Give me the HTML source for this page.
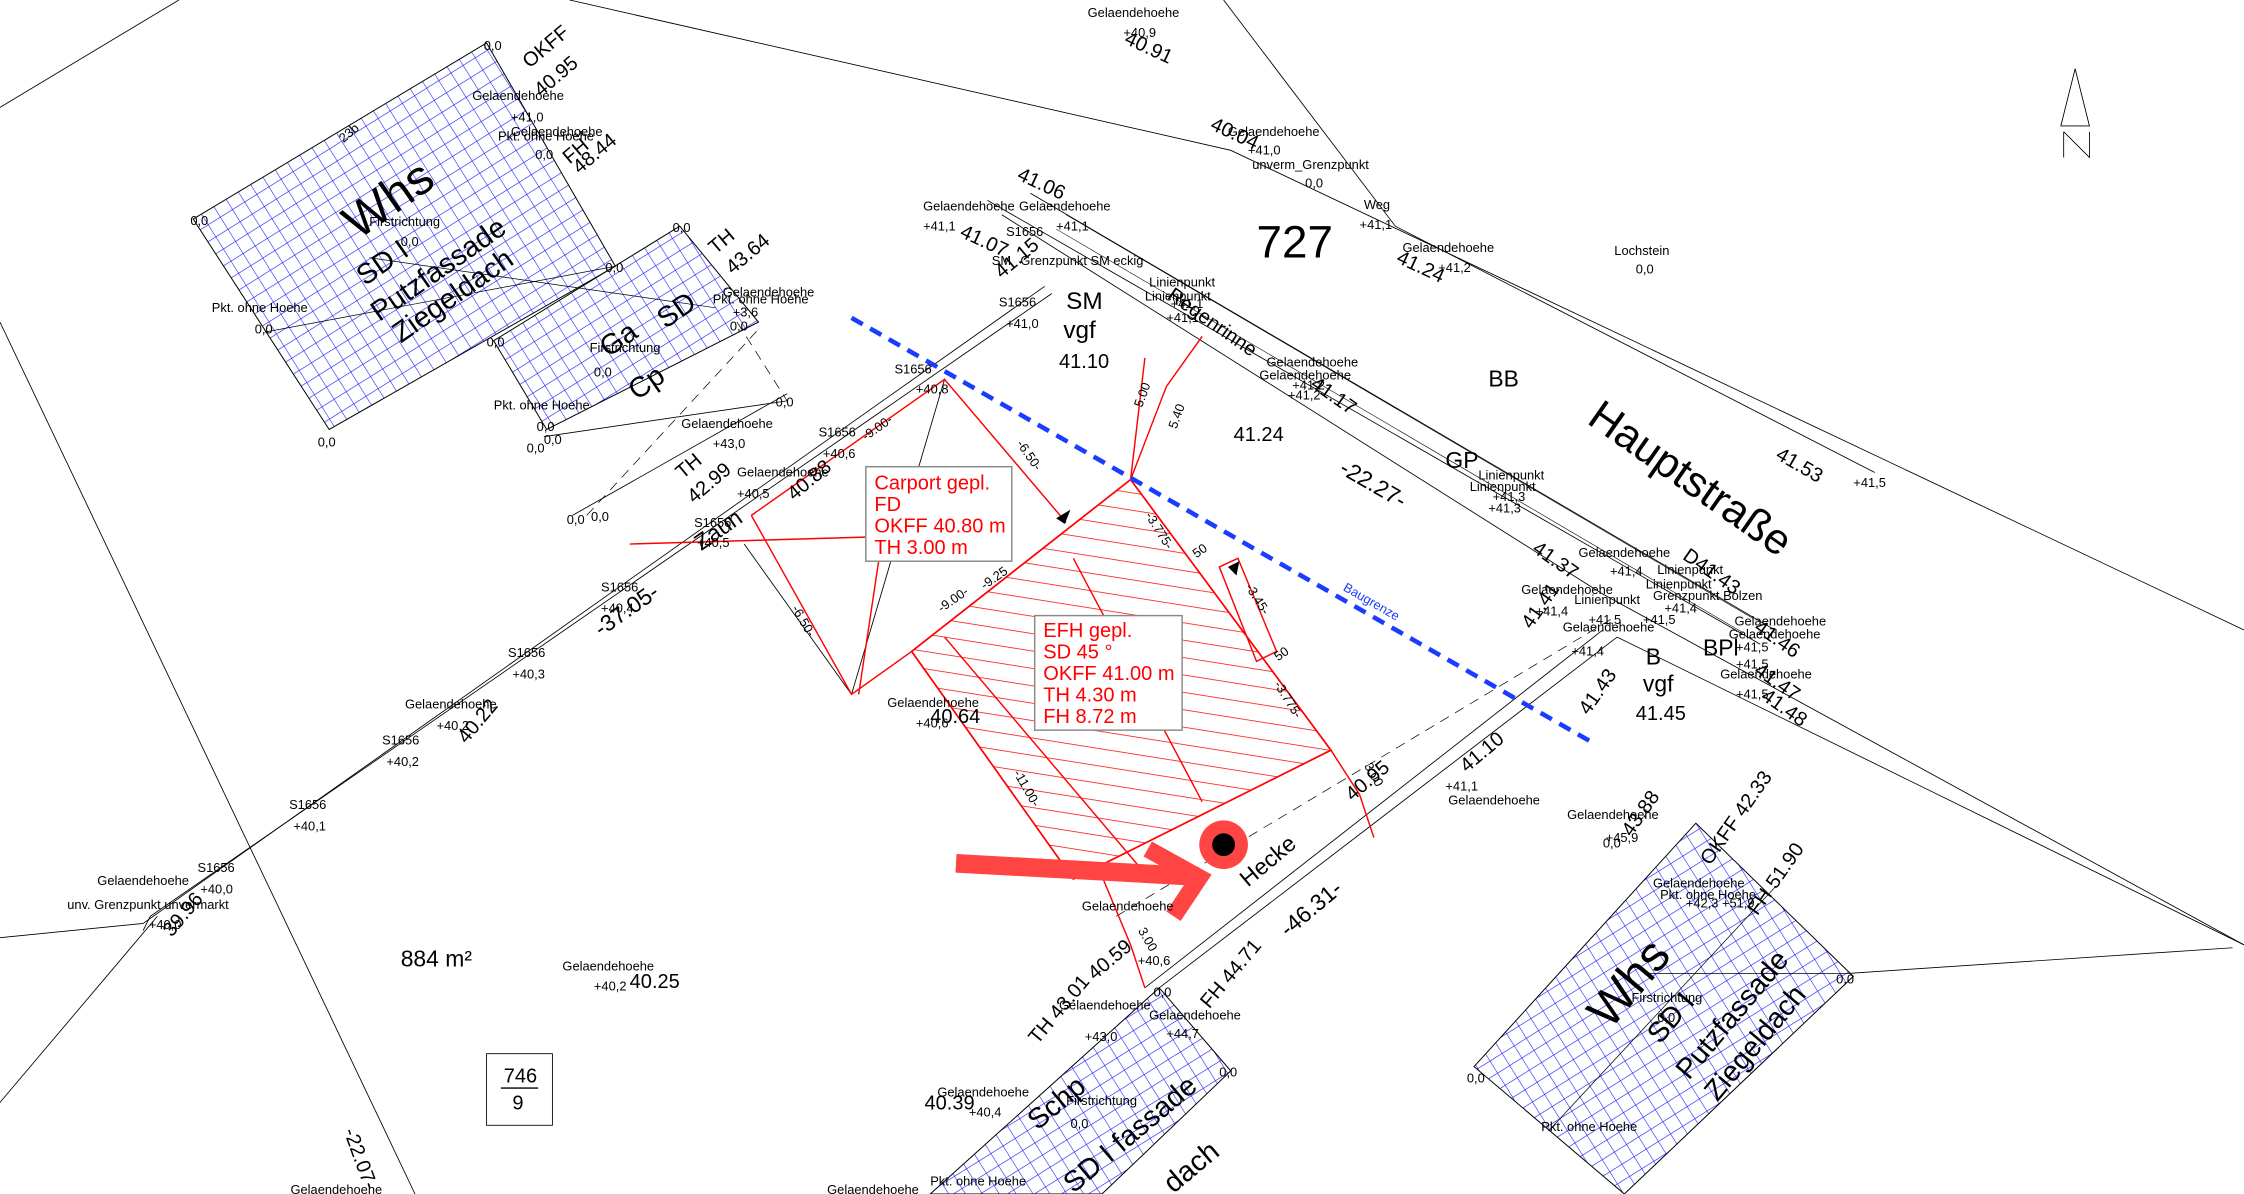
<!DOCTYPE html>
<html><head><meta charset="utf-8"><style>
html,body{margin:0;padding:0;background:#fff;overflow:hidden}
svg{display:block}
text{font-family:"Liberation Sans",sans-serif;fill:#000}
.s{font-size:9px}
.m{font-size:14px}
.b{font-size:20px}
.r{fill:#f00}
</style></head><body>
<svg width="2244" height="1194" viewBox="0 0 1568 834" preserveAspectRatio="none" xmlns="http://www.w3.org/2000/svg">
<defs>
<pattern id="bh" width="10" height="10" patternUnits="userSpaceOnUse" patternTransform="rotate(-32)">
<path d="M0 0H10M0 0V10" stroke="#1a1aff" stroke-width="0.8" fill="none"/>
</pattern>
<pattern id="rh" width="14" height="12" patternUnits="userSpaceOnUse" patternTransform="rotate(9)">
<path d="M0 0H14" stroke="#f00" stroke-width="1" fill="none"/>
</pattern>
</defs>
<rect width="1568" height="834" fill="#fff"/>
<g stroke="#000" stroke-width="0.6" fill="none">
<path d="M0 75L125 0"/>
<path d="M398 0L860 105L1568 440"/>
<path d="M855 0L975 158L1310 330"/>
<path d="M0 655L100 645L730 200"/>
<path d="M100 650L105 640L735 205"/>
<path d="M0 225L290 834"/>
<path d="M0 770L110 640"/>
<path d="M690 140L1230 450"/>
<path d="M720 135L1240 440"/>
<path d="M700 150L1120 415L1568 660"/>
<path d="M800 690L1120 440"/>
<path d="M810 690L1130 445"/>
<path d="M1130 445L1568 660"/>
<path d="M400 360L550 275"/>
<path d="M380 305L550 280"/>
<path d="M1290 680L1560 662"/>
<path d="M520 380L595 485L660 265L745 365"/>
</g>
<g stroke="#000" stroke-width="0.5" stroke-dasharray="7 5" fill="none">
<path d="M780 640L1130 430"/>
<path d="M515 225L550 280"/>
<path d="M410 360L530 230"/>
</g>
<g stroke="#000" stroke-width="0.4">
<path d="M745 150L1225 432M738 160L1218 442"/>
</g>
<g stroke="#000" stroke-width="0.7" fill="url(#bh)">
<polygon points="135,153 340,30 430,186 230,300"/>
<polygon points="345,238 475,158 530,225 382,300"/>
<polygon points="1030,745 1185,575 1295,682 1135,834"/>
<polygon points="650,834 810,690 860,748 770,834"/>
</g>
<g stroke="#000" stroke-width="0.5" fill="none">
<path d="M185 232L430 186M258 180L500 215"/>
<path d="M1082 790L1240 620M1150 680L1290 680"/>
</g>
<g stroke="#f00" stroke-width="1" fill="none">
<path d="M525 360L660 265L745 365"/>
<path d="M525 360L595 485L637 455"/>
<path d="M440 380L610 375"/>
<path d="M615 385L600 485"/>
<path d="M790 335L815 270L840 235"/>
<path d="M790 335L800 250"/>
<path d="M930 524L950 555L960 585"/>
<path d="M770 612L790 660L800 690"/>
</g>
<polygon points="790,335 930,524 750,614 637,455" fill="url(#rh)" stroke="#f00" stroke-width="1.2"/>
<path d="M660 445L800 610M750 390L840 560" stroke="#f00" stroke-width="1" fill="none"/>
<polygon points="852,396 865,390 892,455 878,462" fill="none" stroke="#f00"/>
<path d="M738 362l10 -6 -4 10z M858 396l8 -4 -2 10z" fill="#000"/>
<path d="M595 222L1115 520" stroke="#1a3cff" stroke-width="3.2" stroke-dasharray="9 6" fill="none"/>
<text x="938" y="412" font-size="9" style="fill:#1a3cff" transform="rotate(30 938 412)">Baugrenze</text>
<rect x="605" y="326" width="102" height="66" fill="#fff" stroke="#888"/>
<text x="611" y="342" class="m r">Carport gepl.</text>
<text x="611" y="357" class="m r">FD</text>
<text x="611" y="372" class="m r">OKFF 40.80 m</text>
<text x="611" y="387" class="m r">TH 3.00 m</text>
<rect x="723" y="430" width="103" height="80" fill="#fff" stroke="#888"/>
<text x="729" y="445" class="m r">EFH gepl.</text>
<text x="729" y="460" class="m r">SD 45 °</text>
<text x="729" y="475" class="m r">OKFF  41.00 m</text>
<text x="729" y="490" class="m r">TH 4.30 m</text>
<text x="729" y="505" class="m r">FH 8.72 m</text>
<g font-size="9" style="fill:#f00">
<text x="605" y="308" transform="rotate(-35 605 308)">-9.00-</text>
<text x="710" y="310" transform="rotate(55 710 310)">-6.50-</text>
<text x="553" y="425" transform="rotate(60 553 425)">-6.50-</text>
<text x="798" y="285" transform="rotate(-70 798 285)">5.00</text>
<text x="822" y="300" transform="rotate(-70 822 300)">5.40</text>
<text x="658" y="428" transform="rotate(-35 658 428)">-9.00-</text>
<text x="688" y="412" transform="rotate(-35 688 412)">-9.25</text>
<text x="800" y="360" transform="rotate(58 800 360)">-3.775-</text>
<text x="836" y="390" transform="rotate(-35 836 390)">50</text>
<text x="870" y="410" transform="rotate(58 870 410)">-3.45-</text>
<text x="893" y="462" transform="rotate(-35 893 462)">50</text>
<text x="890" y="478" transform="rotate(58 890 478)">-3.775-</text>
<text x="708" y="540" transform="rotate(60 708 540)">-11.00-</text>
<text x="953" y="535" transform="rotate(60 953 535)">3.00</text>
<text x="795" y="650" transform="rotate(60 795 650)">3.00</text>
</g>
<circle cx="855" cy="590" r="17" fill="#f44"/>
<circle cx="855" cy="590" r="8" fill="#000"/>
<path d="M668 603L832 612" stroke="#f44" stroke-width="13" fill="none"/>
<path d="M802 593L838 613L820 640" stroke="#f44" stroke-width="12" fill="none"/>
<text x="250" y="168" font-size="34" transform="rotate(-35 250 168)">Whs</text>
<text x="255" y="200" class="b" transform="rotate(-35 255 200)">SD  I</text>
<text x="265" y="225" class="b" transform="rotate(-35 265 225)">Putzfassade</text>
<text x="280" y="240" class="b" transform="rotate(-35 280 240)">Ziegeldach</text>
<text x="425" y="250" class="b" transform="rotate(-35 425 250)">Ga</text>
<text x="465" y="230" class="b" transform="rotate(-35 465 230)">SD</text>
<text x="445" y="280" class="b" transform="rotate(-35 445 280)">Cp</text>
<text x="1125" y="720" font-size="34" transform="rotate(-50 1125 720)">Whs</text>
<text x="1160" y="730" class="b" transform="rotate(-50 1160 730)">SD  I</text>
<text x="1180" y="755" class="b" transform="rotate(-50 1180 755)">Putzfassade</text>
<text x="1200" y="770" class="b" transform="rotate(-50 1200 770)">Ziegeldach</text>
<text x="725" y="790" class="b" transform="rotate(-40 725 790)">Schp</text>
<text x="750" y="834" class="b" transform="rotate(-40 750 834)">SD  I  fassade</text>
<text x="820" y="834" class="b" transform="rotate(-40 820 834)">dach</text>
<text x="878" y="180" font-size="32">727</text>
<text x="1040" y="270" font-size="16">BB</text>
<text x="1108" y="295" font-size="30" transform="rotate(35 1108 295)">Hauptstraße</text>
<text x="745" y="216" font-size="17">SM</text>
<text x="743" y="236" font-size="17">vgf</text>
<text x="740" y="257" class="m">41.10</text>
<text x="862" y="308" class="m">41.24</text>
<text x="935" y="330" font-size="16" transform="rotate(30 935 330)">-22.27-</text>
<text x="1010" y="327" font-size="16">GP</text>
<text x="1150" y="464" font-size="16">B</text>
<text x="1148" y="483" font-size="16">vgf</text>
<text x="1143" y="503" class="m">41.45</text>
<text x="1190" y="458" font-size="16">BPl</text>
<text x="815" y="208" class="m" transform="rotate(35 815 208)">Regenrinne</text>
<text x="490" y="385" font-size="16" transform="rotate(-35 490 385)">Zaun</text>
<text x="420" y="445" font-size="16" transform="rotate(-35 420 445)">-37.05-</text>
<text x="326" y="520" class="m" transform="rotate(-50 326 520)">40.22</text>
<text x="650" y="505" class="m">40.64</text>
<text x="872" y="620" font-size="16" transform="rotate(-40 872 620)">Hecke</text>
<text x="900" y="655" font-size="16" transform="rotate(-40 900 655)">-46.31-</text>
<text x="945" y="560" class="m" transform="rotate(-40 945 560)">40.95</text>
<text x="1025" y="540" class="m" transform="rotate(-40 1025 540)">41.10</text>
<text x="765" y="685" class="m" transform="rotate(-40 765 685)">40.59</text>
<text x="280" y="675" font-size="16">884 m²</text>
<text x="440" y="690" class="m">40.25</text>
<text x="646" y="775" class="m">40.39</text>
<text x="240" y="790" class="m" transform="rotate(70 240 790)">-22.07-</text>
<text x="120" y="655" class="m" transform="rotate(-50 120 655)">39.96</text>
<rect x="340" y="736" width="46" height="50" fill="none" stroke="#000" stroke-width="0.6"/>
<text x="352" y="756" class="m">746</text>
<path d="M350 760H376" stroke="#000"/>
<text x="358" y="775" class="m">9</text>
<text x="1240" y="320" class="m" transform="rotate(30 1240 320)">41.53</text>
<text x="370" y="48" class="m" transform="rotate(-40 370 48)">OKFF</text>
<text x="378" y="68" class="m" transform="rotate(-40 378 68)">40.95</text>
<text x="398" y="115" class="m" transform="rotate(-40 398 115)">FH</text>
<text x="405" y="122" class="m" transform="rotate(-40 405 122)">48.44</text>
<text x="500" y="178" class="m" transform="rotate(-40 500 178)">TH</text>
<text x="512" y="192" class="m" transform="rotate(-40 512 192)">43.64</text>
<text x="477" y="335" class="m" transform="rotate(-40 477 335)">TH</text>
<text x="485" y="352" class="m" transform="rotate(-40 485 352)">42.99</text>
<text x="555" y="350" class="m" transform="rotate(-40 555 350)">40.88</text>
<text x="710" y="125" class="m" transform="rotate(25 710 125)">41.06</text>
<text x="670" y="165" class="m" transform="rotate(25 670 165)">41.07</text>
<text x="700" y="195" class="m" transform="rotate(-40 700 195)">41.15</text>
<text x="785" y="30" class="m" transform="rotate(25 785 30)">40.91</text>
<text x="845" y="90" class="m" transform="rotate(25 845 90)">40.04</text>
<text x="975" y="183" class="m" transform="rotate(25 975 183)">41.24</text>
<text x="915" y="270" class="m" transform="rotate(35 915 270)">41.17</text>
<text x="1070" y="385" class="m" transform="rotate(35 1070 385)">41.37</text>
<text x="1175" y="390" class="m" transform="rotate(35 1175 390)">D41.43</text>
<text x="1225" y="440" class="m" transform="rotate(35 1225 440)">41.46</text>
<text x="1225" y="470" class="m" transform="rotate(35 1225 470)">41.47</text>
<text x="1230" y="488" class="m" transform="rotate(35 1230 488)">41.48</text>
<text x="1070" y="440" class="m" transform="rotate(-55 1070 440)">41.41</text>
<text x="1110" y="500" class="m" transform="rotate(-55 1110 500)">41.43</text>
<text x="1140" y="585" class="m" transform="rotate(-55 1140 585)">43.88</text>
<text x="1195" y="605" class="m" transform="rotate(-55 1195 605)">OKFF 42.33</text>
<text x="1228" y="640" class="m" transform="rotate(-55 1228 640)">FH 51.90</text>
<text x="725" y="730" class="m" transform="rotate(-50 725 730)">TH 43.01</text>
<text x="845" y="705" class="m" transform="rotate(-50 845 705)">FH 44.71</text>
<text x="240" y="100" class="s" transform="rotate(-40 240 100)">23b</text>
<g class="s">
<text x="760" y="12">Gelaendehoehe</text><text x="785" y="26">+40,9</text>
<text x="858" y="95">Gelaendehoehe</text><text x="872" y="108">+41,0</text><text x="875" y="118">unverm_Grenzpunkt</text><text x="912" y="131">0,0</text>
<text x="953" y="146">Weg</text><text x="950" y="160">+41,1</text>
<text x="980" y="176">Gelaendehoehe</text><text x="1005" y="190">+41,2</text>
<text x="1128" y="178">Lochstein</text><text x="1143" y="191">0,0</text>
<text x="645" y="147">Gelaendehoehe</text><text x="712" y="147">Gelaendehoehe</text>
<text x="645" y="161">+41,1</text><text x="703" y="165">S1656</text><text x="738" y="161">+41,1</text>
<text x="693" y="185">SM</text><text x="713" y="185">Grenzpunkt SM eckig</text>
<text x="698" y="214">S1656</text><text x="703" y="229">+41,0</text>
<text x="803" y="200">Linienpunkt</text><text x="800" y="210">Linienpunkt</text><text x="818" y="215">+41,1</text><text x="815" y="225">+41,1</text>
<text x="885" y="256">Gelaendehoehe</text><text x="880" y="265">Gelaendehoehe</text><text x="903" y="272">+41,2</text><text x="900" y="279">+41,2</text>
<text x="1033" y="335">Linienpunkt</text><text x="1027" y="343">Linienpunkt</text><text x="1043" y="350">+41,3</text><text x="1040" y="358">+41,3</text>
<text x="1103" y="389">Gelaendehoehe</text><text x="1125" y="402">+41,4</text>
<text x="1158" y="401">Linienpunkt</text><text x="1150" y="411">Linienpunkt</text><text x="1155" y="419">Grenzpunkt Bolzen</text><text x="1163" y="428">+41,4</text>
<text x="1063" y="415">Gelaendehoehe</text><text x="1073" y="430">+41,4</text><text x="1100" y="422">Linienpunkt</text>
<text x="1092" y="441">Gelaendehoehe</text><text x="1110" y="436">+41,5</text><text x="1148" y="436">+41,5</text>
<text x="1098" y="458">+41,4</text>
<text x="1212" y="437">Gelaendehoehe</text><text x="1208" y="446">Gelaendehoehe</text><text x="1213" y="455">+41,5</text><text x="1213" y="467">+41,5</text>
<text x="1202" y="474">Gelaendehoehe</text><text x="1213" y="488">+41,5</text>
<text x="1295" y="340">+41,5</text>
<text x="625" y="261">S1656</text><text x="640" y="275">+40,8</text>
<text x="572" y="305">S1656</text><text x="575" y="320">+40,6</text>
<text x="515" y="333">Gelaendehoehe</text><text x="515" y="348">+40,5</text>
<text x="485" y="368">S1656</text><text x="487" y="382">+40,5</text>
<text x="420" y="413">S1656</text><text x="420" y="428">+40,4</text>
<text x="355" y="459">S1656</text><text x="358" y="474">+40,3</text>
<text x="283" y="495">Gelaendehoehe</text><text x="305" y="510">+40,2</text>
<text x="267" y="520">S1656</text><text x="270" y="535">+40,2</text>
<text x="202" y="565">S1656</text><text x="205" y="580">+40,1</text>
<text x="138" y="609">S1656</text><text x="68" y="618">Gelaendehoehe</text><text x="140" y="624">+40,0</text>
<text x="47" y="635">unv. Grenzpunkt  unvermarkt</text><text x="104" y="649">+40,0</text>
<text x="620" y="494">Gelaendehoehe</text><text x="640" y="508">+40,6</text>
<text x="756" y="636">Gelaendehoehe</text>
<text x="795" y="674">+40,6</text><text x="806" y="696">0,0</text>
<text x="803" y="712">Gelaendehoehe</text><text x="815" y="725">+44,7</text><text x="852" y="752">0,0</text>
<text x="740" y="705">Gelaendehoehe</text><text x="758" y="727">+43,0</text>
<text x="655" y="766">Gelaendehoehe</text><text x="677" y="780">+40,4</text><text x="745" y="772">Firstrichtung</text><text x="748" y="788">0,0</text>
<text x="650" y="828">Pkt. ohne Hoehe</text><text x="578" y="834">Gelaendehoehe</text>
<text x="203" y="834">Gelaendehoehe</text>
<text x="393" y="678">Gelaendehoehe</text><text x="415" y="692">+40,2</text>
<text x="1012" y="562">Gelaendehoehe</text><text x="1010" y="552">+41,1</text>
<text x="1095" y="572">Gelaendehoehe</text><text x="1122" y="588">+45,9</text><text x="1120" y="592">0,0</text>
<text x="1155" y="620">Gelaendehoehe</text><text x="1160" y="628">Pkt. ohne Hoehe</text><text x="1178" y="634">+42,3  +51,9</text>
<text x="1283" y="687">0,0</text><text x="1140" y="700">Firstrichtung</text><text x="1158" y="714">0,0</text>
<text x="1025" y="756">0,0</text><text x="1077" y="790">Pkt. ohne Hoehe</text>
<text x="133" y="157">0,0</text><text x="338" y="35">0,0</text><text x="222" y="312">0,0</text>
<text x="148" y="218">Pkt. ohne Hoehe</text><text x="178" y="233">0,0</text>
<text x="330" y="70">Gelaendehoehe</text><text x="357" y="85">+41,0</text><text x="348" y="98">Pkt. ohne Hoehe</text><text x="357" y="95">Gelaendehoehe</text><text x="374" y="111">0,0</text>
<text x="258" y="158">Firstrichtung</text><text x="280" y="172">0,0</text>
<text x="423" y="190">0,0</text><text x="470" y="162">0,0</text>
<text x="505" y="207">Gelaendehoehe</text><text x="498" y="212">Pkt. ohne Hoehe</text><text x="512" y="221">+3,6</text><text x="510" y="231">0,0</text>
<text x="340" y="242">0,0</text><text x="412" y="246">Firstrichtung</text><text x="415" y="263">0,0</text>
<text x="345" y="286">Pkt. ohne Hoehe</text><text x="375" y="301">0,0</text><text x="368" y="316">0,0</text><text x="380" y="310">0,0</text>
<text x="542" y="284">0,0</text><text x="476" y="299">Gelaendehoehe</text><text x="498" y="313">+43,0</text>
<text x="396" y="366">0,0</text><text x="413" y="364">0,0</text>
</g>
<g stroke="#000" stroke-width="0.6" fill="none">
<path d="M1450 48L1440 88H1460Z"/>
<path d="M1442 92V110M1442 92L1460 110V92"/>
</g>
</svg>
</body></html>
